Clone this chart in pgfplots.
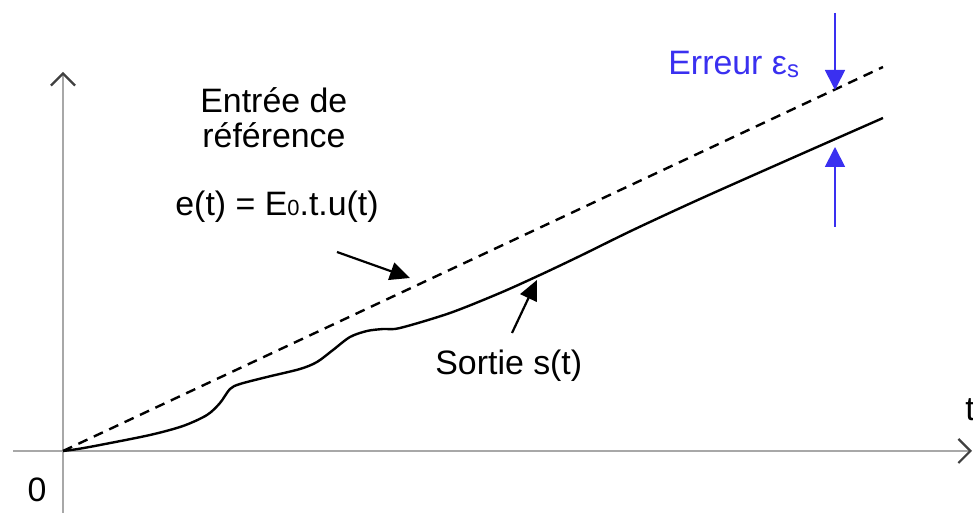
\documentclass[border=0pt]{standalone}
\usepackage{fontspec}
\setmainfont{Liberation Sans}
\usepackage{pgfplots}
\pgfplotsset{compat=1.18}
\usetikzlibrary{arrows.meta}
\definecolor{axisgray}{HTML}{A8A8A8}
\definecolor{errblue}{HTML}{3A30F0}

\begin{document}
\begin{tikzpicture}
\begin{axis}[
  x=0.5bp, y=0.5bp,
  xmin=-63, xmax=910, ymin=-62, ymax=451,
  hide axis,
  clip=false,
]
% frame of the picture
\coordinate (bl) at (axis cs:-63,-62);
\coordinate (tr) at (axis cs:910,451);

% axes
\draw[axisgray, line width=1.4bp, -{Straight Barb[length=6bp,width=12bp,line width=1.1bp,color=black!75]}]
  (axis cs:-50,0) -- (axis cs:909,0);
\draw[axisgray, line width=1.4bp, -{Straight Barb[length=6bp,width=12bp,line width=1.1bp,color=black!75]}]
  (axis cs:0,-62) -- (axis cs:0,379);

% reference input e(t)
\addplot[black, line width=1.2bp, dash pattern=on 5bp off 3.5bp] coordinates {
  (0,0) (820,384)
};

% output s(t)
\addplot[black, line width=1.2bp, smooth, tension=0.5] coordinates {
  (0,0) (15,2) (37,6) (87,16) (120,25) (144,36) (157,48) (167,62) (177,67)
  (204,74) (237,82) (254,89) (270,101) (287,114) (304,120) (320,122)
  (337,123) (387,138) (437,158) (477,176) (517,195) (570,221) (637,252)
  (727,292) (820,333)
};

% annotation arrows
\draw[black, line width=1.1bp, -{Triangle[length=10bp,width=9bp]}]
  (axis cs:274,199) -- (axis cs:347,173);
\draw[black, line width=1.1bp, -{Triangle[length=10bp,width=9bp]}]
  (axis cs:449,118) -- (axis cs:474,171);
\draw[errblue, line width=0.9bp, -{Triangle[length=10bp,width=10bp]}]
  (axis cs:772,438) -- (axis cs:772,361);
\draw[errblue, line width=0.9bp, -{Triangle[length=10bp,width=10bp]}]
  (axis cs:772,224) -- (axis cs:772,304);

% texts
\begin{scope}[every node/.style={font=\fontsize{17}{20}\selectfont, inner sep=0pt}]
\node[anchor=base west] at (axis cs:137,338) {Entrée de};
\node[anchor=base west] at (axis cs:139,303) {référence};
\node[anchor=base west] at (axis cs:112,235)
  {e(t) = E{\fontsize{11}{11}\selectfont 0}.t.u(t)};
\node[anchor=base west] at (axis cs:372,76) {Sortie s(t)};
\node[anchor=base west, text=errblue] at (axis cs:605,376)
  {Erreur ε\raisebox{-1.5bp}{\fontsize{12}{12}\selectfont s}};
\node at (axis cs:-26,-39) {0};
\node[anchor=west] at (axis cs:902,41) {t};
\end{scope}
\end{axis}
\pgfresetboundingbox
\path[use as bounding box] (bl) rectangle (tr);
\end{tikzpicture}
\end{document}
